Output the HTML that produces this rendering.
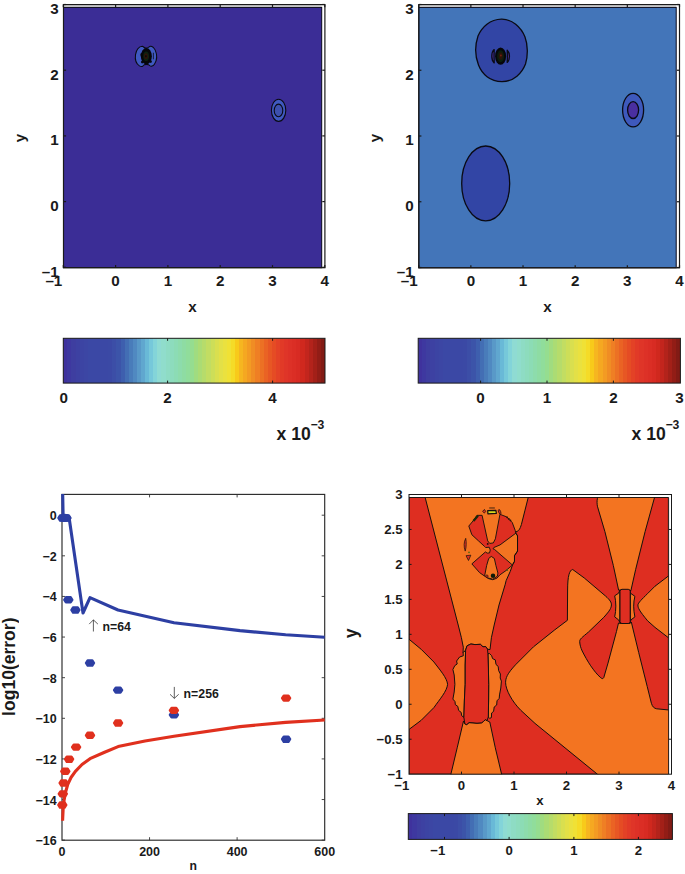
<!DOCTYPE html>
<html><head><meta charset="utf-8"><title>figure</title>
<style>html,body{margin:0;padding:0;background:#fff}svg{display:block}text{font-family:"Liberation Sans",sans-serif;font-weight:bold;fill:#1a1a1a;opacity:0.999}</style>
</head><body>
<svg width="685" height="874" viewBox="0 0 685 874">
<rect x="0" y="0" width="685" height="874" fill="#ffffff"/>
<rect x="63.50" y="4.60" width="258.20" height="3.00" fill="#dcdcdc"/>
<rect x="63.50" y="7.40" width="258.20" height="260.30" fill="#3B2D96" stroke="#08081a" stroke-width="1"/>
<ellipse cx="278.6" cy="110.3" rx="7.2" ry="11.1" fill="#3F59C0" stroke="#0a0a14" stroke-width="1.1"/>
<ellipse cx="278.5" cy="110.4" rx="4.3" ry="6.3" fill="#3D50AE" stroke="#0a0a14" stroke-width="1.1"/>
<g transform="translate(125,35) scale(0.0657)">
<path d="M265,172 C220,175 175,215 160,300 C150,370 175,440 220,470 C245,485 265,480 275,470 C290,440 360,440 380,468 C395,485 430,475 450,440 C485,385 490,300 460,230 C440,190 410,168 385,170 C370,172 355,200 320,200 C290,200 280,172 265,172 Z" fill="#3F59C0" stroke="#0a0a14" stroke-width="16"/>
<ellipse cx="325" cy="322" rx="84" ry="124" fill="#06060a"/>
<ellipse cx="250" cy="300" rx="16" ry="26" fill="#06060a"/>
<ellipse cx="262" cy="412" rx="18" ry="20" fill="#06060a"/>
<ellipse cx="392" cy="405" rx="16" ry="22" fill="#06060a"/>
<path d="M432,270 L432,370" fill="none" stroke="#0a0a14" stroke-width="12"/>
<ellipse cx="322" cy="322" rx="44" ry="72" fill="#0c2210"/>
<ellipse cx="320" cy="322" rx="28" ry="46" fill="#2e140a"/>
<ellipse cx="318" cy="322" rx="12" ry="18" fill="#0a0a0a"/>
</g>
<rect x="63.50" y="4.60" width="261.40" height="263.10" fill="none" stroke="#1a1a1a" stroke-width="1.2"/>
<line x1="63.30" y1="267.70" x2="63.30" y2="265.10" stroke="#1a1a1a" stroke-width="1.2"/>
<line x1="63.30" y1="4.60" x2="63.30" y2="7.20" stroke="#1a1a1a" stroke-width="1.2"/>
<line x1="115.60" y1="267.70" x2="115.60" y2="265.10" stroke="#1a1a1a" stroke-width="1.2"/>
<line x1="115.60" y1="4.60" x2="115.60" y2="7.20" stroke="#1a1a1a" stroke-width="1.2"/>
<line x1="167.90" y1="267.70" x2="167.90" y2="265.10" stroke="#1a1a1a" stroke-width="1.2"/>
<line x1="167.90" y1="4.60" x2="167.90" y2="7.20" stroke="#1a1a1a" stroke-width="1.2"/>
<line x1="220.20" y1="267.70" x2="220.20" y2="265.10" stroke="#1a1a1a" stroke-width="1.2"/>
<line x1="220.20" y1="4.60" x2="220.20" y2="7.20" stroke="#1a1a1a" stroke-width="1.2"/>
<line x1="272.50" y1="267.70" x2="272.50" y2="265.10" stroke="#1a1a1a" stroke-width="1.2"/>
<line x1="272.50" y1="4.60" x2="272.50" y2="7.20" stroke="#1a1a1a" stroke-width="1.2"/>
<line x1="324.80" y1="267.70" x2="324.80" y2="265.10" stroke="#1a1a1a" stroke-width="1.2"/>
<line x1="324.80" y1="4.60" x2="324.80" y2="7.20" stroke="#1a1a1a" stroke-width="1.2"/>
<line x1="63.50" y1="4.50" x2="66.10" y2="4.50" stroke="#1a1a1a" stroke-width="1.2"/>
<line x1="324.90" y1="4.50" x2="322.30" y2="4.50" stroke="#1a1a1a" stroke-width="1.2"/>
<line x1="63.50" y1="70.20" x2="66.10" y2="70.20" stroke="#1a1a1a" stroke-width="1.2"/>
<line x1="324.90" y1="70.20" x2="322.30" y2="70.20" stroke="#1a1a1a" stroke-width="1.2"/>
<line x1="63.50" y1="135.90" x2="66.10" y2="135.90" stroke="#1a1a1a" stroke-width="1.2"/>
<line x1="324.90" y1="135.90" x2="322.30" y2="135.90" stroke="#1a1a1a" stroke-width="1.2"/>
<line x1="63.50" y1="201.60" x2="66.10" y2="201.60" stroke="#1a1a1a" stroke-width="1.2"/>
<line x1="324.90" y1="201.60" x2="322.30" y2="201.60" stroke="#1a1a1a" stroke-width="1.2"/>
<line x1="63.50" y1="267.30" x2="66.10" y2="267.30" stroke="#1a1a1a" stroke-width="1.2"/>
<line x1="324.90" y1="267.30" x2="322.30" y2="267.30" stroke="#1a1a1a" stroke-width="1.2"/>
<text x="62.30" y="285.70" font-size="15.2" text-anchor="end" >–1</text>
<text x="115.60" y="285.70" font-size="15.2" text-anchor="middle" >0</text>
<text x="167.90" y="285.70" font-size="15.2" text-anchor="middle" >1</text>
<text x="220.20" y="285.70" font-size="15.2" text-anchor="middle" >2</text>
<text x="272.50" y="285.70" font-size="15.2" text-anchor="middle" >3</text>
<text x="324.80" y="285.70" font-size="15.2" text-anchor="middle" >4</text>
<text x="58.60" y="13.90" font-size="15.2" text-anchor="end" >3</text>
<text x="58.60" y="79.60" font-size="15.2" text-anchor="end" >2</text>
<text x="58.60" y="145.30" font-size="15.2" text-anchor="end" >1</text>
<text x="58.60" y="211.00" font-size="15.2" text-anchor="end" >0</text>
<text x="58.60" y="276.70" font-size="15.2" text-anchor="end" >–1</text>
<text x="192.50" y="312.30" font-size="15.2" text-anchor="middle" >x</text>
<text transform="translate(25.3,138) rotate(-90)" font-size="15.2" text-anchor="middle">y</text>
<linearGradient id="cb1" x1="0" y1="0" x2="1" y2="0"><stop offset="0.00000" stop-color="rgb(63,50,157)"/><stop offset="0.01562" stop-color="rgb(63,50,157)"/><stop offset="0.01562" stop-color="rgb(62,56,160)"/><stop offset="0.03125" stop-color="rgb(62,56,160)"/><stop offset="0.03125" stop-color="rgb(62,62,160)"/><stop offset="0.04688" stop-color="rgb(62,62,160)"/><stop offset="0.04688" stop-color="rgb(61,65,162)"/><stop offset="0.06250" stop-color="rgb(61,65,162)"/><stop offset="0.06250" stop-color="rgb(60,68,163)"/><stop offset="0.07812" stop-color="rgb(60,68,163)"/><stop offset="0.07812" stop-color="rgb(60,70,164)"/><stop offset="0.09375" stop-color="rgb(60,70,164)"/><stop offset="0.09375" stop-color="rgb(59,72,165)"/><stop offset="0.10938" stop-color="rgb(59,72,165)"/><stop offset="0.10938" stop-color="rgb(59,72,165)"/><stop offset="0.12500" stop-color="rgb(59,72,165)"/><stop offset="0.12500" stop-color="rgb(59,72,165)"/><stop offset="0.14062" stop-color="rgb(59,72,165)"/><stop offset="0.14062" stop-color="rgb(59,72,165)"/><stop offset="0.15625" stop-color="rgb(59,72,165)"/><stop offset="0.15625" stop-color="rgb(59,72,165)"/><stop offset="0.17188" stop-color="rgb(59,72,165)"/><stop offset="0.17188" stop-color="rgb(59,73,165)"/><stop offset="0.18750" stop-color="rgb(59,73,165)"/><stop offset="0.18750" stop-color="rgb(60,78,167)"/><stop offset="0.20312" stop-color="rgb(60,78,167)"/><stop offset="0.20312" stop-color="rgb(60,84,169)"/><stop offset="0.21875" stop-color="rgb(60,84,169)"/><stop offset="0.21875" stop-color="rgb(62,95,174)"/><stop offset="0.23438" stop-color="rgb(62,95,174)"/><stop offset="0.23438" stop-color="rgb(67,110,180)"/><stop offset="0.25000" stop-color="rgb(67,110,180)"/><stop offset="0.25000" stop-color="rgb(73,124,186)"/><stop offset="0.26562" stop-color="rgb(73,124,186)"/><stop offset="0.26562" stop-color="rgb(80,137,193)"/><stop offset="0.28125" stop-color="rgb(80,137,193)"/><stop offset="0.28125" stop-color="rgb(89,153,200)"/><stop offset="0.29688" stop-color="rgb(89,153,200)"/><stop offset="0.29688" stop-color="rgb(96,167,207)"/><stop offset="0.31250" stop-color="rgb(96,167,207)"/><stop offset="0.31250" stop-color="rgb(105,185,215)"/><stop offset="0.32812" stop-color="rgb(105,185,215)"/><stop offset="0.32812" stop-color="rgb(118,200,218)"/><stop offset="0.34375" stop-color="rgb(118,200,218)"/><stop offset="0.34375" stop-color="rgb(131,212,217)"/><stop offset="0.35938" stop-color="rgb(131,212,217)"/><stop offset="0.35938" stop-color="rgb(143,219,211)"/><stop offset="0.37500" stop-color="rgb(143,219,211)"/><stop offset="0.37500" stop-color="rgb(144,221,204)"/><stop offset="0.39062" stop-color="rgb(144,221,204)"/><stop offset="0.39062" stop-color="rgb(142,220,196)"/><stop offset="0.40625" stop-color="rgb(142,220,196)"/><stop offset="0.40625" stop-color="rgb(141,220,189)"/><stop offset="0.42188" stop-color="rgb(141,220,189)"/><stop offset="0.42188" stop-color="rgb(140,220,181)"/><stop offset="0.43750" stop-color="rgb(140,220,181)"/><stop offset="0.43750" stop-color="rgb(141,220,172)"/><stop offset="0.45312" stop-color="rgb(141,220,172)"/><stop offset="0.45312" stop-color="rgb(142,220,163)"/><stop offset="0.46875" stop-color="rgb(142,220,163)"/><stop offset="0.46875" stop-color="rgb(144,221,155)"/><stop offset="0.48438" stop-color="rgb(144,221,155)"/><stop offset="0.48438" stop-color="rgb(149,221,144)"/><stop offset="0.50000" stop-color="rgb(149,221,144)"/><stop offset="0.50000" stop-color="rgb(160,220,128)"/><stop offset="0.51562" stop-color="rgb(160,220,128)"/><stop offset="0.51562" stop-color="rgb(171,220,116)"/><stop offset="0.53125" stop-color="rgb(171,220,116)"/><stop offset="0.53125" stop-color="rgb(182,220,107)"/><stop offset="0.54688" stop-color="rgb(182,220,107)"/><stop offset="0.54688" stop-color="rgb(194,221,98)"/><stop offset="0.56250" stop-color="rgb(194,221,98)"/><stop offset="0.56250" stop-color="rgb(205,222,88)"/><stop offset="0.57812" stop-color="rgb(205,222,88)"/><stop offset="0.57812" stop-color="rgb(217,223,79)"/><stop offset="0.59375" stop-color="rgb(217,223,79)"/><stop offset="0.59375" stop-color="rgb(227,224,71)"/><stop offset="0.60938" stop-color="rgb(227,224,71)"/><stop offset="0.60938" stop-color="rgb(234,225,63)"/><stop offset="0.62500" stop-color="rgb(234,225,63)"/><stop offset="0.62500" stop-color="rgb(240,225,53)"/><stop offset="0.64062" stop-color="rgb(240,225,53)"/><stop offset="0.64062" stop-color="rgb(245,219,39)"/><stop offset="0.65625" stop-color="rgb(245,219,39)"/><stop offset="0.65625" stop-color="rgb(248,202,26)"/><stop offset="0.67188" stop-color="rgb(248,202,26)"/><stop offset="0.67188" stop-color="rgb(246,182,32)"/><stop offset="0.68750" stop-color="rgb(246,182,32)"/><stop offset="0.68750" stop-color="rgb(245,168,33)"/><stop offset="0.70312" stop-color="rgb(245,168,33)"/><stop offset="0.70312" stop-color="rgb(243,155,35)"/><stop offset="0.71875" stop-color="rgb(243,155,35)"/><stop offset="0.71875" stop-color="rgb(240,141,36)"/><stop offset="0.73438" stop-color="rgb(240,141,36)"/><stop offset="0.73438" stop-color="rgb(239,127,36)"/><stop offset="0.75000" stop-color="rgb(239,127,36)"/><stop offset="0.75000" stop-color="rgb(236,113,36)"/><stop offset="0.76562" stop-color="rgb(236,113,36)"/><stop offset="0.76562" stop-color="rgb(234,99,36)"/><stop offset="0.78125" stop-color="rgb(234,99,36)"/><stop offset="0.78125" stop-color="rgb(231,87,36)"/><stop offset="0.79688" stop-color="rgb(231,87,36)"/><stop offset="0.79688" stop-color="rgb(229,76,36)"/><stop offset="0.81250" stop-color="rgb(229,76,36)"/><stop offset="0.81250" stop-color="rgb(227,66,38)"/><stop offset="0.82812" stop-color="rgb(227,66,38)"/><stop offset="0.82812" stop-color="rgb(225,58,39)"/><stop offset="0.84375" stop-color="rgb(225,58,39)"/><stop offset="0.84375" stop-color="rgb(223,53,40)"/><stop offset="0.85938" stop-color="rgb(223,53,40)"/><stop offset="0.85938" stop-color="rgb(221,49,39)"/><stop offset="0.87500" stop-color="rgb(221,49,39)"/><stop offset="0.87500" stop-color="rgb(219,46,37)"/><stop offset="0.89062" stop-color="rgb(219,46,37)"/><stop offset="0.89062" stop-color="rgb(216,43,35)"/><stop offset="0.90625" stop-color="rgb(216,43,35)"/><stop offset="0.90625" stop-color="rgb(208,40,30)"/><stop offset="0.92188" stop-color="rgb(208,40,30)"/><stop offset="0.92188" stop-color="rgb(195,37,29)"/><stop offset="0.93750" stop-color="rgb(195,37,29)"/><stop offset="0.93750" stop-color="rgb(179,35,27)"/><stop offset="0.95312" stop-color="rgb(179,35,27)"/><stop offset="0.95312" stop-color="rgb(163,32,24)"/><stop offset="0.96875" stop-color="rgb(163,32,24)"/><stop offset="0.96875" stop-color="rgb(146,29,22)"/><stop offset="0.98438" stop-color="rgb(146,29,22)"/><stop offset="0.98438" stop-color="rgb(130,27,21)"/><stop offset="1.00000" stop-color="rgb(130,27,21)"/></linearGradient>
<rect x="63.30" y="338.30" width="261.70" height="44.80" fill="url(#cb1)"/>
<rect x="63.30" y="338.30" width="261.70" height="44.80" fill="none" stroke="#1a1a1a" stroke-width="1"/>
<text x="63.80" y="402.80" font-size="15.2" text-anchor="middle" >0</text>
<line x1="167.60" y1="338.30" x2="167.60" y2="340.80" stroke="#1a1a1a" stroke-width="1"/>
<line x1="167.60" y1="383.10" x2="167.60" y2="380.60" stroke="#1a1a1a" stroke-width="1"/>
<text x="167.60" y="402.80" font-size="15.2" text-anchor="middle" >2</text>
<line x1="272.60" y1="338.30" x2="272.60" y2="340.80" stroke="#1a1a1a" stroke-width="1"/>
<line x1="272.60" y1="383.10" x2="272.60" y2="380.60" stroke="#1a1a1a" stroke-width="1"/>
<text x="272.60" y="402.80" font-size="15.2" text-anchor="middle" >4</text>
<text x="276.6" y="440" font-size="17.6">x 10<tspan dy="-11.3" dx="-0.4" font-size="12.2">−3</tspan></text>
<rect x="418.80" y="4.60" width="257.40" height="3.00" fill="#dcdcdc"/>
<rect x="418.80" y="7.40" width="257.40" height="260.40" fill="#4375B9" stroke="#08081a" stroke-width="1"/>
<path d="M501.5,19.2 C512,19 521,27 525,37 C528,45 528,56 525.5,64 C522,73 514,81.6 502,81.6 C490,81.6 482,74 478.5,65 C475,56 475,45 478,36 C482,27 490,19.4 501.5,19.2 Z" fill="#3245A5" stroke="#0a0a14" stroke-width="1.3"/>
<ellipse cx="485.7" cy="183.4" rx="24" ry="37.4" fill="#3245A5" stroke="#0a0a14" stroke-width="1.3"/>
<path d="M494.2,49.6 C491.0,52.5 491.0,60 494.2,62.9 C494.0,59 494.0,53.5 494.2,49.6 Z" fill="#5030a4" stroke="#0a0a14" stroke-width="1.3" stroke-linejoin="round"/>
<path d="M507.2,50.2 C510.2,53 510.2,59.6 507.2,62.4 C507.4,58.6 507.4,54 507.2,50.2 Z" fill="#5030a4" stroke="#0a0a14" stroke-width="1.3" stroke-linejoin="round"/>
<ellipse cx="500.6" cy="56.2" rx="5.5" ry="8.6" fill="#06060a"/>
<ellipse cx="500.6" cy="56.2" rx="3.5" ry="6" fill="#0a1e0c"/>
<ellipse cx="500.7" cy="56.0" rx="2.1" ry="3.8" fill="#2a1408"/>
<ellipse cx="500.9" cy="55.4" rx="0.7" ry="1.0" fill="#8a2010"/>
<ellipse cx="633.1" cy="110.1" rx="10.5" ry="16.8" fill="#3E59BC" stroke="#0a0a14" stroke-width="1.3"/>
<ellipse cx="633.1" cy="110.1" rx="5.5" ry="8.4" fill="#4A2FA0" stroke="#0a0a14" stroke-width="1.3"/>
<rect x="418.80" y="4.60" width="260.70" height="263.20" fill="none" stroke="#1a1a1a" stroke-width="1.2"/>
<line x1="418.70" y1="267.80" x2="418.70" y2="265.20" stroke="#1a1a1a" stroke-width="1.2"/>
<line x1="418.70" y1="4.60" x2="418.70" y2="7.20" stroke="#1a1a1a" stroke-width="1.2"/>
<line x1="470.86" y1="267.80" x2="470.86" y2="265.20" stroke="#1a1a1a" stroke-width="1.2"/>
<line x1="470.86" y1="4.60" x2="470.86" y2="7.20" stroke="#1a1a1a" stroke-width="1.2"/>
<line x1="523.02" y1="267.80" x2="523.02" y2="265.20" stroke="#1a1a1a" stroke-width="1.2"/>
<line x1="523.02" y1="4.60" x2="523.02" y2="7.20" stroke="#1a1a1a" stroke-width="1.2"/>
<line x1="575.18" y1="267.80" x2="575.18" y2="265.20" stroke="#1a1a1a" stroke-width="1.2"/>
<line x1="575.18" y1="4.60" x2="575.18" y2="7.20" stroke="#1a1a1a" stroke-width="1.2"/>
<line x1="627.34" y1="267.80" x2="627.34" y2="265.20" stroke="#1a1a1a" stroke-width="1.2"/>
<line x1="627.34" y1="4.60" x2="627.34" y2="7.20" stroke="#1a1a1a" stroke-width="1.2"/>
<line x1="679.50" y1="267.80" x2="679.50" y2="265.20" stroke="#1a1a1a" stroke-width="1.2"/>
<line x1="679.50" y1="4.60" x2="679.50" y2="7.20" stroke="#1a1a1a" stroke-width="1.2"/>
<line x1="418.80" y1="4.50" x2="421.40" y2="4.50" stroke="#1a1a1a" stroke-width="1.2"/>
<line x1="679.50" y1="4.50" x2="676.90" y2="4.50" stroke="#1a1a1a" stroke-width="1.2"/>
<line x1="418.80" y1="70.25" x2="421.40" y2="70.25" stroke="#1a1a1a" stroke-width="1.2"/>
<line x1="679.50" y1="70.25" x2="676.90" y2="70.25" stroke="#1a1a1a" stroke-width="1.2"/>
<line x1="418.80" y1="136.00" x2="421.40" y2="136.00" stroke="#1a1a1a" stroke-width="1.2"/>
<line x1="679.50" y1="136.00" x2="676.90" y2="136.00" stroke="#1a1a1a" stroke-width="1.2"/>
<line x1="418.80" y1="201.75" x2="421.40" y2="201.75" stroke="#1a1a1a" stroke-width="1.2"/>
<line x1="679.50" y1="201.75" x2="676.90" y2="201.75" stroke="#1a1a1a" stroke-width="1.2"/>
<line x1="418.80" y1="267.50" x2="421.40" y2="267.50" stroke="#1a1a1a" stroke-width="1.2"/>
<line x1="679.50" y1="267.50" x2="676.90" y2="267.50" stroke="#1a1a1a" stroke-width="1.2"/>
<text x="417.70" y="285.70" font-size="15.2" text-anchor="end" >–1</text>
<text x="470.86" y="285.70" font-size="15.2" text-anchor="middle" >0</text>
<text x="523.02" y="285.70" font-size="15.2" text-anchor="middle" >1</text>
<text x="575.18" y="285.70" font-size="15.2" text-anchor="middle" >2</text>
<text x="627.34" y="285.70" font-size="15.2" text-anchor="middle" >3</text>
<text x="679.50" y="285.70" font-size="15.2" text-anchor="middle" >4</text>
<text x="413.60" y="13.90" font-size="15.2" text-anchor="end" >3</text>
<text x="413.60" y="79.65" font-size="15.2" text-anchor="end" >2</text>
<text x="413.60" y="145.40" font-size="15.2" text-anchor="end" >1</text>
<text x="413.60" y="211.15" font-size="15.2" text-anchor="end" >0</text>
<text x="413.60" y="276.90" font-size="15.2" text-anchor="end" >–1</text>
<text x="547.50" y="312.30" font-size="15.2" text-anchor="middle" >x</text>
<text transform="translate(380.3,138) rotate(-90)" font-size="15.2" text-anchor="middle">y</text>
<linearGradient id="cb2" x1="0" y1="0" x2="1" y2="0"><stop offset="0.00000" stop-color="rgb(63,50,157)"/><stop offset="0.01562" stop-color="rgb(63,50,157)"/><stop offset="0.01562" stop-color="rgb(62,56,160)"/><stop offset="0.03125" stop-color="rgb(62,56,160)"/><stop offset="0.03125" stop-color="rgb(62,62,160)"/><stop offset="0.04688" stop-color="rgb(62,62,160)"/><stop offset="0.04688" stop-color="rgb(61,65,162)"/><stop offset="0.06250" stop-color="rgb(61,65,162)"/><stop offset="0.06250" stop-color="rgb(60,68,163)"/><stop offset="0.07812" stop-color="rgb(60,68,163)"/><stop offset="0.07812" stop-color="rgb(60,70,164)"/><stop offset="0.09375" stop-color="rgb(60,70,164)"/><stop offset="0.09375" stop-color="rgb(59,72,165)"/><stop offset="0.10938" stop-color="rgb(59,72,165)"/><stop offset="0.10938" stop-color="rgb(59,72,165)"/><stop offset="0.12500" stop-color="rgb(59,72,165)"/><stop offset="0.12500" stop-color="rgb(59,72,165)"/><stop offset="0.14062" stop-color="rgb(59,72,165)"/><stop offset="0.14062" stop-color="rgb(59,72,165)"/><stop offset="0.15625" stop-color="rgb(59,72,165)"/><stop offset="0.15625" stop-color="rgb(59,72,165)"/><stop offset="0.17188" stop-color="rgb(59,72,165)"/><stop offset="0.17188" stop-color="rgb(59,73,165)"/><stop offset="0.18750" stop-color="rgb(59,73,165)"/><stop offset="0.18750" stop-color="rgb(60,78,167)"/><stop offset="0.20312" stop-color="rgb(60,78,167)"/><stop offset="0.20312" stop-color="rgb(60,84,169)"/><stop offset="0.21875" stop-color="rgb(60,84,169)"/><stop offset="0.21875" stop-color="rgb(62,95,174)"/><stop offset="0.23438" stop-color="rgb(62,95,174)"/><stop offset="0.23438" stop-color="rgb(67,110,180)"/><stop offset="0.25000" stop-color="rgb(67,110,180)"/><stop offset="0.25000" stop-color="rgb(73,124,186)"/><stop offset="0.26562" stop-color="rgb(73,124,186)"/><stop offset="0.26562" stop-color="rgb(80,137,193)"/><stop offset="0.28125" stop-color="rgb(80,137,193)"/><stop offset="0.28125" stop-color="rgb(89,153,200)"/><stop offset="0.29688" stop-color="rgb(89,153,200)"/><stop offset="0.29688" stop-color="rgb(96,167,207)"/><stop offset="0.31250" stop-color="rgb(96,167,207)"/><stop offset="0.31250" stop-color="rgb(105,185,215)"/><stop offset="0.32812" stop-color="rgb(105,185,215)"/><stop offset="0.32812" stop-color="rgb(118,200,218)"/><stop offset="0.34375" stop-color="rgb(118,200,218)"/><stop offset="0.34375" stop-color="rgb(131,212,217)"/><stop offset="0.35938" stop-color="rgb(131,212,217)"/><stop offset="0.35938" stop-color="rgb(143,219,211)"/><stop offset="0.37500" stop-color="rgb(143,219,211)"/><stop offset="0.37500" stop-color="rgb(144,221,204)"/><stop offset="0.39062" stop-color="rgb(144,221,204)"/><stop offset="0.39062" stop-color="rgb(142,220,196)"/><stop offset="0.40625" stop-color="rgb(142,220,196)"/><stop offset="0.40625" stop-color="rgb(141,220,189)"/><stop offset="0.42188" stop-color="rgb(141,220,189)"/><stop offset="0.42188" stop-color="rgb(140,220,181)"/><stop offset="0.43750" stop-color="rgb(140,220,181)"/><stop offset="0.43750" stop-color="rgb(141,220,172)"/><stop offset="0.45312" stop-color="rgb(141,220,172)"/><stop offset="0.45312" stop-color="rgb(142,220,163)"/><stop offset="0.46875" stop-color="rgb(142,220,163)"/><stop offset="0.46875" stop-color="rgb(144,221,155)"/><stop offset="0.48438" stop-color="rgb(144,221,155)"/><stop offset="0.48438" stop-color="rgb(149,221,144)"/><stop offset="0.50000" stop-color="rgb(149,221,144)"/><stop offset="0.50000" stop-color="rgb(160,220,128)"/><stop offset="0.51562" stop-color="rgb(160,220,128)"/><stop offset="0.51562" stop-color="rgb(171,220,116)"/><stop offset="0.53125" stop-color="rgb(171,220,116)"/><stop offset="0.53125" stop-color="rgb(182,220,107)"/><stop offset="0.54688" stop-color="rgb(182,220,107)"/><stop offset="0.54688" stop-color="rgb(194,221,98)"/><stop offset="0.56250" stop-color="rgb(194,221,98)"/><stop offset="0.56250" stop-color="rgb(205,222,88)"/><stop offset="0.57812" stop-color="rgb(205,222,88)"/><stop offset="0.57812" stop-color="rgb(217,223,79)"/><stop offset="0.59375" stop-color="rgb(217,223,79)"/><stop offset="0.59375" stop-color="rgb(227,224,71)"/><stop offset="0.60938" stop-color="rgb(227,224,71)"/><stop offset="0.60938" stop-color="rgb(234,225,63)"/><stop offset="0.62500" stop-color="rgb(234,225,63)"/><stop offset="0.62500" stop-color="rgb(240,225,53)"/><stop offset="0.64062" stop-color="rgb(240,225,53)"/><stop offset="0.64062" stop-color="rgb(245,219,39)"/><stop offset="0.65625" stop-color="rgb(245,219,39)"/><stop offset="0.65625" stop-color="rgb(248,202,26)"/><stop offset="0.67188" stop-color="rgb(248,202,26)"/><stop offset="0.67188" stop-color="rgb(246,182,32)"/><stop offset="0.68750" stop-color="rgb(246,182,32)"/><stop offset="0.68750" stop-color="rgb(245,168,33)"/><stop offset="0.70312" stop-color="rgb(245,168,33)"/><stop offset="0.70312" stop-color="rgb(243,155,35)"/><stop offset="0.71875" stop-color="rgb(243,155,35)"/><stop offset="0.71875" stop-color="rgb(240,141,36)"/><stop offset="0.73438" stop-color="rgb(240,141,36)"/><stop offset="0.73438" stop-color="rgb(239,127,36)"/><stop offset="0.75000" stop-color="rgb(239,127,36)"/><stop offset="0.75000" stop-color="rgb(236,113,36)"/><stop offset="0.76562" stop-color="rgb(236,113,36)"/><stop offset="0.76562" stop-color="rgb(234,99,36)"/><stop offset="0.78125" stop-color="rgb(234,99,36)"/><stop offset="0.78125" stop-color="rgb(231,87,36)"/><stop offset="0.79688" stop-color="rgb(231,87,36)"/><stop offset="0.79688" stop-color="rgb(229,76,36)"/><stop offset="0.81250" stop-color="rgb(229,76,36)"/><stop offset="0.81250" stop-color="rgb(227,66,38)"/><stop offset="0.82812" stop-color="rgb(227,66,38)"/><stop offset="0.82812" stop-color="rgb(225,58,39)"/><stop offset="0.84375" stop-color="rgb(225,58,39)"/><stop offset="0.84375" stop-color="rgb(223,53,40)"/><stop offset="0.85938" stop-color="rgb(223,53,40)"/><stop offset="0.85938" stop-color="rgb(221,49,39)"/><stop offset="0.87500" stop-color="rgb(221,49,39)"/><stop offset="0.87500" stop-color="rgb(219,46,37)"/><stop offset="0.89062" stop-color="rgb(219,46,37)"/><stop offset="0.89062" stop-color="rgb(216,43,35)"/><stop offset="0.90625" stop-color="rgb(216,43,35)"/><stop offset="0.90625" stop-color="rgb(208,40,30)"/><stop offset="0.92188" stop-color="rgb(208,40,30)"/><stop offset="0.92188" stop-color="rgb(195,37,29)"/><stop offset="0.93750" stop-color="rgb(195,37,29)"/><stop offset="0.93750" stop-color="rgb(179,35,27)"/><stop offset="0.95312" stop-color="rgb(179,35,27)"/><stop offset="0.95312" stop-color="rgb(163,32,24)"/><stop offset="0.96875" stop-color="rgb(163,32,24)"/><stop offset="0.96875" stop-color="rgb(146,29,22)"/><stop offset="0.98438" stop-color="rgb(146,29,22)"/><stop offset="0.98438" stop-color="rgb(130,27,21)"/><stop offset="1.00000" stop-color="rgb(130,27,21)"/></linearGradient>
<rect x="418.20" y="338.30" width="262.20" height="44.80" fill="url(#cb2)"/>
<rect x="418.20" y="338.30" width="262.20" height="44.80" fill="none" stroke="#1a1a1a" stroke-width="1"/>
<line x1="480.60" y1="338.30" x2="480.60" y2="340.80" stroke="#1a1a1a" stroke-width="1"/>
<line x1="480.60" y1="383.10" x2="480.60" y2="380.60" stroke="#1a1a1a" stroke-width="1"/>
<text x="480.60" y="402.80" font-size="15.2" text-anchor="middle" >0</text>
<line x1="547.00" y1="338.30" x2="547.00" y2="340.80" stroke="#1a1a1a" stroke-width="1"/>
<line x1="547.00" y1="383.10" x2="547.00" y2="380.60" stroke="#1a1a1a" stroke-width="1"/>
<text x="547.00" y="402.80" font-size="15.2" text-anchor="middle" >1</text>
<line x1="613.40" y1="338.30" x2="613.40" y2="340.80" stroke="#1a1a1a" stroke-width="1"/>
<line x1="613.40" y1="383.10" x2="613.40" y2="380.60" stroke="#1a1a1a" stroke-width="1"/>
<text x="613.40" y="402.80" font-size="15.2" text-anchor="middle" >2</text>
<text x="679.60" y="402.80" font-size="15.2" text-anchor="middle" >3</text>
<text x="631.6" y="440" font-size="17.6">x 10<tspan dy="-11.3" dx="-0.4" font-size="12.2">−3</tspan></text>
<rect x="62.00" y="494.40" width="262.70" height="345.80" fill="none" stroke="#2a2a2a" stroke-width="1.15"/>
<line x1="149.56" y1="840.20" x2="149.56" y2="837.20" stroke="#333" stroke-width="0.9"/>
<line x1="149.56" y1="494.40" x2="149.56" y2="497.40" stroke="#333" stroke-width="0.9"/>
<line x1="237.12" y1="840.20" x2="237.12" y2="837.20" stroke="#333" stroke-width="0.9"/>
<line x1="237.12" y1="494.40" x2="237.12" y2="497.40" stroke="#333" stroke-width="0.9"/>
<line x1="62.00" y1="515.20" x2="65.00" y2="515.20" stroke="#333" stroke-width="0.9"/>
<line x1="324.70" y1="515.20" x2="321.70" y2="515.20" stroke="#333" stroke-width="0.9"/>
<line x1="62.00" y1="555.82" x2="65.00" y2="555.82" stroke="#333" stroke-width="0.9"/>
<line x1="324.70" y1="555.82" x2="321.70" y2="555.82" stroke="#333" stroke-width="0.9"/>
<line x1="62.00" y1="596.44" x2="65.00" y2="596.44" stroke="#333" stroke-width="0.9"/>
<line x1="324.70" y1="596.44" x2="321.70" y2="596.44" stroke="#333" stroke-width="0.9"/>
<line x1="62.00" y1="637.06" x2="65.00" y2="637.06" stroke="#333" stroke-width="0.9"/>
<line x1="324.70" y1="637.06" x2="321.70" y2="637.06" stroke="#333" stroke-width="0.9"/>
<line x1="62.00" y1="677.68" x2="65.00" y2="677.68" stroke="#333" stroke-width="0.9"/>
<line x1="324.70" y1="677.68" x2="321.70" y2="677.68" stroke="#333" stroke-width="0.9"/>
<line x1="62.00" y1="718.30" x2="65.00" y2="718.30" stroke="#333" stroke-width="0.9"/>
<line x1="324.70" y1="718.30" x2="321.70" y2="718.30" stroke="#333" stroke-width="0.9"/>
<line x1="62.00" y1="758.92" x2="65.00" y2="758.92" stroke="#333" stroke-width="0.9"/>
<line x1="324.70" y1="758.92" x2="321.70" y2="758.92" stroke="#333" stroke-width="0.9"/>
<line x1="62.00" y1="799.54" x2="65.00" y2="799.54" stroke="#333" stroke-width="0.9"/>
<line x1="324.70" y1="799.54" x2="321.70" y2="799.54" stroke="#333" stroke-width="0.9"/>
<line x1="62.00" y1="840.16" x2="65.00" y2="840.16" stroke="#333" stroke-width="0.9"/>
<line x1="324.70" y1="840.16" x2="321.70" y2="840.16" stroke="#333" stroke-width="0.9"/>
<text x="62.00" y="855.90" font-size="12.5" text-anchor="middle" >0</text>
<text x="149.56" y="855.90" font-size="12.5" text-anchor="middle" >200</text>
<text x="237.12" y="855.90" font-size="12.5" text-anchor="middle" >400</text>
<text x="324.68" y="855.90" font-size="12.5" text-anchor="middle" >600</text>
<text x="56.70" y="520.20" font-size="12.5" text-anchor="end" >0</text>
<text x="56.70" y="560.82" font-size="12.5" text-anchor="end" >−2</text>
<text x="56.70" y="601.44" font-size="12.5" text-anchor="end" >−4</text>
<text x="56.70" y="642.06" font-size="12.5" text-anchor="end" >−6</text>
<text x="56.70" y="682.68" font-size="12.5" text-anchor="end" >−8</text>
<text x="56.70" y="723.30" font-size="12.5" text-anchor="end" >−10</text>
<text x="56.70" y="763.92" font-size="12.5" text-anchor="end" >−12</text>
<text x="56.70" y="804.54" font-size="12.5" text-anchor="end" >−14</text>
<text x="56.70" y="845.16" font-size="12.5" text-anchor="end" >−16</text>
<text x="193.20" y="870.30" font-size="12.2" text-anchor="middle" >n</text>
<text transform="translate(15.0,666.7) rotate(-90)" font-size="17.55" text-anchor="middle">log10(error)</text>
<path d="M58.30,518.00 l1.7,-2.6 h4.8 l1.7,2.6 l-1.7,2.6 h-4.8 Z" fill="#2D3FA3" stroke="#2D3FA3" stroke-width="2.2" stroke-linejoin="round"/>
<path d="M59.50,518.00 l1.7,-2.6 h4.8 l1.7,2.6 l-1.7,2.6 h-4.8 Z" fill="#2D3FA3" stroke="#2D3FA3" stroke-width="2.2" stroke-linejoin="round"/>
<path d="M61.30,518.00 l1.7,-2.6 h4.8 l1.7,2.6 l-1.7,2.6 h-4.8 Z" fill="#2D3FA3" stroke="#2D3FA3" stroke-width="2.2" stroke-linejoin="round"/>
<path d="M62.40,518.00 l1.7,-2.6 h4.8 l1.7,2.6 l-1.7,2.6 h-4.8 Z" fill="#2D3FA3" stroke="#2D3FA3" stroke-width="2.2" stroke-linejoin="round"/>
<path d="M64.20,599.80 l1.7,-2.6 h4.8 l1.7,2.6 l-1.7,2.6 h-4.8 Z" fill="#2D3FA3" stroke="#2D3FA3" stroke-width="2.2" stroke-linejoin="round"/>
<path d="M71.30,610.00 l1.7,-2.6 h4.8 l1.7,2.6 l-1.7,2.6 h-4.8 Z" fill="#2D3FA3" stroke="#2D3FA3" stroke-width="2.2" stroke-linejoin="round"/>
<path d="M85.90,663.00 l1.7,-2.6 h4.8 l1.7,2.6 l-1.7,2.6 h-4.8 Z" fill="#2D3FA3" stroke="#2D3FA3" stroke-width="2.2" stroke-linejoin="round"/>
<path d="M114.00,690.10 l1.7,-2.6 h4.8 l1.7,2.6 l-1.7,2.6 h-4.8 Z" fill="#2D3FA3" stroke="#2D3FA3" stroke-width="2.2" stroke-linejoin="round"/>
<path d="M169.80,714.90 l1.7,-2.6 h4.8 l1.7,2.6 l-1.7,2.6 h-4.8 Z" fill="#2D3FA3" stroke="#2D3FA3" stroke-width="2.2" stroke-linejoin="round"/>
<path d="M58.20,805.00 l1.7,-2.6 h4.8 l1.7,2.6 l-1.7,2.6 h-4.8 Z" fill="#E0301E" stroke="#E0301E" stroke-width="2.2" stroke-linejoin="round"/>
<path d="M58.70,793.90 l1.7,-2.6 h4.8 l1.7,2.6 l-1.7,2.6 h-4.8 Z" fill="#E0301E" stroke="#E0301E" stroke-width="2.2" stroke-linejoin="round"/>
<path d="M59.50,783.00 l1.7,-2.6 h4.8 l1.7,2.6 l-1.7,2.6 h-4.8 Z" fill="#E0301E" stroke="#E0301E" stroke-width="2.2" stroke-linejoin="round"/>
<path d="M61.20,771.30 l1.7,-2.6 h4.8 l1.7,2.6 l-1.7,2.6 h-4.8 Z" fill="#E0301E" stroke="#E0301E" stroke-width="2.2" stroke-linejoin="round"/>
<path d="M65.00,759.20 l1.7,-2.6 h4.8 l1.7,2.6 l-1.7,2.6 h-4.8 Z" fill="#E0301E" stroke="#E0301E" stroke-width="2.2" stroke-linejoin="round"/>
<path d="M72.00,747.10 l1.7,-2.6 h4.8 l1.7,2.6 l-1.7,2.6 h-4.8 Z" fill="#E0301E" stroke="#E0301E" stroke-width="2.2" stroke-linejoin="round"/>
<path d="M85.90,735.30 l1.7,-2.6 h4.8 l1.7,2.6 l-1.7,2.6 h-4.8 Z" fill="#E0301E" stroke="#E0301E" stroke-width="2.2" stroke-linejoin="round"/>
<path d="M114.00,723.00 l1.7,-2.6 h4.8 l1.7,2.6 l-1.7,2.6 h-4.8 Z" fill="#E0301E" stroke="#E0301E" stroke-width="2.2" stroke-linejoin="round"/>
<path d="M169.80,710.40 l1.7,-2.6 h4.8 l1.7,2.6 l-1.7,2.6 h-4.8 Z" fill="#E0301E" stroke="#E0301E" stroke-width="2.2" stroke-linejoin="round"/>
<path d="M282.00,698.10 l1.7,-2.6 h4.8 l1.7,2.6 l-1.7,2.6 h-4.8 Z" fill="#E0301E" stroke="#E0301E" stroke-width="2.2" stroke-linejoin="round"/>
<path d="M282.00,739.20 l1.7,-2.6 h4.8 l1.7,2.6 l-1.7,2.6 h-4.8 Z" fill="#2D3FA3" stroke="#2D3FA3" stroke-width="2.2" stroke-linejoin="round"/>
<path d="M62.7,494 L63.1,515 L66,515.5 L69,517 L83,613 L90,597.6 L118,610 L174,622.7 L240,630.6 L285.6,634.8 L324.7,637.2" fill="none" stroke="#2D3FA3" stroke-width="3.1" stroke-linejoin="round"/>
<path d="M62.6,820.8 L63.2,808 L64,800.6 L65.6,792 L67.8,784.3 L71,777.5 L75.4,771.3 L82,764.5 L90,758.7 L104,752.5 L118.1,746.6 L145,741 L174,736.3 L240,726.6 L285.6,722.4 L324.7,720" fill="none" stroke="#E0301E" stroke-width="3.1" stroke-linejoin="round"/>
<path d="M93.4,631.5 V619.9 M89.2,624.1 L93.4,619.9 L97.9,624.1" fill="none" stroke="#1a1a1a" stroke-width="0.7"/>
<text x="102.5" y="631" font-size="12.3" text-anchor="start">n=64</text>
<path d="M174.3,686.9 V698.3 M170,694.3 L174.3,698.4 L178.7,694.3" fill="none" stroke="#1a1a1a" stroke-width="0.7"/>
<text x="183.6" y="698.2" font-size="12.3" text-anchor="start">n=256</text>
<clipPath id="c4"><rect x="409.00" y="497.30" width="259.40" height="276.90"/></clipPath>
<g clip-path="url(#c4)" stroke="#15100c" stroke-width="1" stroke-linejoin="round">
<rect x="409.00" y="497.30" width="259.40" height="276.90" fill="#DE2E21"/>
<path d="M400,633 L408.5,638.8 L421.2,649.3 L433.9,662 C440,670 447,678 447.6,684.3 C447,691 440,699 433.9,707.6 L421.2,720.3 L408.5,729.8 L400,735 Z" fill="#F37421"/>
<path d="M423.2,490 L458.2,625 L461.4,637.7 L463.3,647.2 L463,652.8 L465.6,650.2 L467,645.8 L470.9,644 L475,644.6 L480.4,644.3 L483,646.8 L485.7,646.6 L487.5,649.2 L490,649.6 L491.4,637.7 L494.2,625 L499,605 L505.1,584.8 L506.1,580.7 L510.2,571.5 L512.7,564.6 L514.5,561.3 L514.5,555.7 L517.5,551.1 L517.5,535.8 L515.8,533.2 L515.6,531.9 C517.8,531.6 519.4,530 520.4,527.4 L521.4,524.5 L525,510.2 L530.1,490 Z" fill="#F37421"/>
<path d="M463.5,721 L464.8,723.8 L466.7,724.6 L469,722.6 L473,722.8 L477,723.2 L481.5,722.8 L483.6,721.4 L485.3,719.6 L487,720.6 L489.8,722 L495.3,747.8 L503.5,782 L449,782 L457.2,747.8 Z" fill="#F37421"/>
<path d="M465.6,650.4 L463.1,652.5 L463.3,655.8 L459.6,657 L456.6,661 L457.2,664 L454.8,665.6 L452.9,669.5 L454.2,675 L454.9,684.3 L454.2,692 L452.9,699.1 L455,701.6 L455.3,704.6 L457.8,706.4 L458.6,710.4 L461.2,712.4 L461.6,715.6 L463.9,717.4 L464.4,700 L465.2,684.3 L465.2,665 Z" fill="#F37421"/>
<path d="M487.9,653.8 L489.3,653.4 L491.6,655.6 L492.6,658.6 L495.3,659.9 L496,664.5 L498.2,666.4 L498.6,670.5 L500.4,674 L500.2,678 L501.4,681.1 L500.8,688 L499.5,694.9 L499.2,698.4 L497,700.8 L496.7,705 L494.2,707 L493.6,711.4 L491.6,713 L491.4,717.6 L489.6,718.4 L488.3,717 L488.6,700 L488.7,684.3 L488.4,668 Z" fill="#F37421"/>
<path d="M505.6,682.8 C505.6,678 507,674 515.5,664.8 L533.5,646.8 L554.7,629.9 L567.4,620.3 L567.6,590 C567.6,576 569.5,570 572.7,569.5 L584.3,578 L605.5,596 C610,600 611.6,602.5 611.4,605 C611.2,608 610,610.5 603.8,617.3 L588.5,632 C582,637.5 579.7,639 579.7,641.5 C579.9,645 580.6,647.5 582.2,651 C585,656.5 587.5,661 590.7,665.8 C594,670.5 597,674.5 600.2,677.2 C601.8,678.8 603,679.2 603.8,677.5 L608,663.1 L616.5,631.4 L618.5,623 L619.9,623.4 L630.2,623.4 L631.3,622 L638.7,652.5 L647.2,686.4 L651.4,703.3 C652.6,707 654,708.2 656.7,708.8 L675,710.6 L675,785 L610.5,785 L597.4,774.2 L535,723.4 L520.8,710.3 C512,701.5 505.8,690 505.6,682.8 Z" fill="#F37421"/>
<path d="M675,571 L655,586.2 L647.6,593.6 C642,599 638,603 637.9,605 C638,608 639,610.4 647.6,620.8 L655,627.4 L675,642.8 Z" fill="#F37421"/>
<path d="M600.5,490 C597,497 596.6,501 597.4,506.2 L604.9,531.6 L613.3,565.4 L618.6,590.1 L630.9,590.6 L635.6,569.7 L645.1,531.6 L656.6,490 Z" fill="#F37421"/>
<path d="M619.9,590.2 L618.6,593.2 L614.7,595.8 C616.2,602 616.2,610 614.7,616.9 L618.6,619.9 L619.9,622.6 Z" fill="#F37421"/>
<path d="M630.3,590.2 L630.5,593.2 L634.9,596.3 C633.3,602 633.3,610 634.9,616.9 L630.9,619.9 L630.3,622.6 Z" fill="#F37421"/>
<rect x="620" y="589.3" width="10.2" height="34.2" rx="2" fill="#DE2E21"/>
<path d="M465.6,650.2 L467,645.8 L470.9,644 L475,644.6 L480.4,644.3 L483,646.8 L485.7,646.6 L487.5,649.2 L487.9,653.8 L488.4,668 L488.7,684.3 L488.6,700 L488.3,717 L487,720.6 L485.3,719.6 L483.6,721.4 L481.5,722.8 L477,723.2 L473,722.8 L469,722.6 L466.7,724.6 L464.8,723.8 L463.9,717.4 L464.4,700 L465.2,684.3 L465.2,665 Z" fill="#DE2E21"/>
<g transform="translate(455,500) scale(0.10219)" stroke-width="9">
<path d="M265,150 L215,150 L185,195 L135,255 L165,340 L230,400 L290,455 L300,465 L335,462 L345,490 L338,518 L315,520 L298,508 L165,625 L240,710 L290,745 L330,770 L370,780 L410,765 L440,732 L500,690 L562,636 L440,530 L385,482 L372,478 L380,465 L440,440 L595,325 L590,300 L560,220 L505,165 L440,140 L395,380 L375,420 L340,425 L320,400 Z" fill="#DE2E21"/>
<path d="M290,742 L310,640 L330,572 L355,552 L385,572 L400,640 L420,715 L415,745 L370,775 L320,762 Z" fill="#F37421"/>
<path d="M595,325 L612,350 L612,500 L582,545 L582,600 L565,632" fill="none"/>
<path d="M320,105 L400,102 L405,130 L322,135 Z" fill="#d8d820" stroke-width="12"/>
<path d="M270,112 L288,92 L300,112 L287,128 Z" fill="#DE2E21" stroke-width="7"/>
<ellipse cx="437" cy="116" rx="10" ry="24" transform="rotate(-20 437 116)" fill="#DE2E21" stroke-width="7"/>
<path d="M335,78 L390,78" fill="none" stroke-width="8"/>
<path d="M180,205 L225,155" fill="none" stroke-width="22" stroke="#1c2a08"/>
<path d="M505,165 L550,205" fill="none" stroke-width="16" stroke="#2a1208" stroke-dasharray="14 8"/>
<circle cx="372" cy="742" r="22" fill="#0c1a08" stroke="none"/>
<circle cx="312" cy="745" r="12" fill="#DE2E21" stroke-width="6"/>
<circle cx="320" cy="430" r="9" fill="#180808" stroke="none"/>
<circle cx="510" cy="685" r="9" fill="#4a5a10" stroke="none"/>
<path d="M105,375 C85,410 85,460 100,500 C112,460 112,410 105,375 Z" fill="#DE2E21" stroke-width="7"/>
<path d="M108,545 L155,540 L132,592 Z" fill="#DE2E21" stroke-width="7"/>
<circle cx="137" cy="512" r="9" fill="#5a6a10" stroke="none"/>
</g>
</g>
<path d="M409.00,497.50 H668.60 V774.20" fill="none" stroke="#15100c" stroke-width="0.9"/>
<rect x="409.00" y="494.50" width="262.50" height="279.70" fill="none" stroke="#1a1a1a" stroke-width="1"/>
<line x1="461.50" y1="774.20" x2="461.50" y2="771.60" stroke="#1a1a1a" stroke-width="1"/>
<line x1="461.50" y1="494.50" x2="461.50" y2="497.10" stroke="#1a1a1a" stroke-width="1"/>
<line x1="514.00" y1="774.20" x2="514.00" y2="771.60" stroke="#1a1a1a" stroke-width="1"/>
<line x1="514.00" y1="494.50" x2="514.00" y2="497.10" stroke="#1a1a1a" stroke-width="1"/>
<line x1="566.50" y1="774.20" x2="566.50" y2="771.60" stroke="#1a1a1a" stroke-width="1"/>
<line x1="566.50" y1="494.50" x2="566.50" y2="497.10" stroke="#1a1a1a" stroke-width="1"/>
<line x1="619.00" y1="774.20" x2="619.00" y2="771.60" stroke="#1a1a1a" stroke-width="1"/>
<line x1="619.00" y1="494.50" x2="619.00" y2="497.10" stroke="#1a1a1a" stroke-width="1"/>
<line x1="409.00" y1="529.46" x2="411.60" y2="529.46" stroke="#1a1a1a" stroke-width="1"/>
<line x1="671.50" y1="529.46" x2="668.90" y2="529.46" stroke="#1a1a1a" stroke-width="1"/>
<line x1="409.00" y1="564.42" x2="411.60" y2="564.42" stroke="#1a1a1a" stroke-width="1"/>
<line x1="671.50" y1="564.42" x2="668.90" y2="564.42" stroke="#1a1a1a" stroke-width="1"/>
<line x1="409.00" y1="599.38" x2="411.60" y2="599.38" stroke="#1a1a1a" stroke-width="1"/>
<line x1="671.50" y1="599.38" x2="668.90" y2="599.38" stroke="#1a1a1a" stroke-width="1"/>
<line x1="409.00" y1="634.34" x2="411.60" y2="634.34" stroke="#1a1a1a" stroke-width="1"/>
<line x1="671.50" y1="634.34" x2="668.90" y2="634.34" stroke="#1a1a1a" stroke-width="1"/>
<line x1="409.00" y1="669.30" x2="411.60" y2="669.30" stroke="#1a1a1a" stroke-width="1"/>
<line x1="671.50" y1="669.30" x2="668.90" y2="669.30" stroke="#1a1a1a" stroke-width="1"/>
<line x1="409.00" y1="704.26" x2="411.60" y2="704.26" stroke="#1a1a1a" stroke-width="1"/>
<line x1="671.50" y1="704.26" x2="668.90" y2="704.26" stroke="#1a1a1a" stroke-width="1"/>
<line x1="409.00" y1="739.22" x2="411.60" y2="739.22" stroke="#1a1a1a" stroke-width="1"/>
<line x1="671.50" y1="739.22" x2="668.90" y2="739.22" stroke="#1a1a1a" stroke-width="1"/>
<text x="409.30" y="790.40" font-size="13.2" text-anchor="end" >−1</text>
<text x="461.50" y="790.40" font-size="13.2" text-anchor="middle" >0</text>
<text x="514.00" y="790.40" font-size="13.2" text-anchor="middle" >1</text>
<text x="566.50" y="790.40" font-size="13.2" text-anchor="middle" >2</text>
<text x="619.00" y="790.40" font-size="13.2" text-anchor="middle" >3</text>
<text x="671.50" y="790.40" font-size="13.2" text-anchor="middle" >4</text>
<text x="402.60" y="499.20" font-size="13.2" text-anchor="end" >3</text>
<text x="402.60" y="534.16" font-size="13.2" text-anchor="end" >2.5</text>
<text x="402.60" y="569.12" font-size="13.2" text-anchor="end" >2</text>
<text x="402.60" y="604.08" font-size="13.2" text-anchor="end" >1.5</text>
<text x="402.60" y="639.04" font-size="13.2" text-anchor="end" >1</text>
<text x="402.60" y="674.00" font-size="13.2" text-anchor="end" >0.5</text>
<text x="402.60" y="708.96" font-size="13.2" text-anchor="end" >0</text>
<text x="402.60" y="743.92" font-size="13.2" text-anchor="end" >−0.5</text>
<text x="402.60" y="778.88" font-size="13.2" text-anchor="end" >−1</text>
<text x="540.00" y="805.20" font-size="13.2" text-anchor="middle" >x</text>
<text transform="translate(357.2,633.3) rotate(-90)" font-size="17.6" text-anchor="middle">y</text>
<linearGradient id="cb3" x1="0" y1="0" x2="1" y2="0"><stop offset="0.00000" stop-color="rgb(63,50,157)"/><stop offset="0.01562" stop-color="rgb(63,50,157)"/><stop offset="0.01562" stop-color="rgb(62,56,160)"/><stop offset="0.03125" stop-color="rgb(62,56,160)"/><stop offset="0.03125" stop-color="rgb(62,62,160)"/><stop offset="0.04688" stop-color="rgb(62,62,160)"/><stop offset="0.04688" stop-color="rgb(61,65,162)"/><stop offset="0.06250" stop-color="rgb(61,65,162)"/><stop offset="0.06250" stop-color="rgb(60,68,163)"/><stop offset="0.07812" stop-color="rgb(60,68,163)"/><stop offset="0.07812" stop-color="rgb(60,70,164)"/><stop offset="0.09375" stop-color="rgb(60,70,164)"/><stop offset="0.09375" stop-color="rgb(59,72,165)"/><stop offset="0.10938" stop-color="rgb(59,72,165)"/><stop offset="0.10938" stop-color="rgb(59,72,165)"/><stop offset="0.12500" stop-color="rgb(59,72,165)"/><stop offset="0.12500" stop-color="rgb(59,72,165)"/><stop offset="0.14062" stop-color="rgb(59,72,165)"/><stop offset="0.14062" stop-color="rgb(59,72,165)"/><stop offset="0.15625" stop-color="rgb(59,72,165)"/><stop offset="0.15625" stop-color="rgb(59,72,165)"/><stop offset="0.17188" stop-color="rgb(59,72,165)"/><stop offset="0.17188" stop-color="rgb(59,73,165)"/><stop offset="0.18750" stop-color="rgb(59,73,165)"/><stop offset="0.18750" stop-color="rgb(60,78,167)"/><stop offset="0.20312" stop-color="rgb(60,78,167)"/><stop offset="0.20312" stop-color="rgb(60,84,169)"/><stop offset="0.21875" stop-color="rgb(60,84,169)"/><stop offset="0.21875" stop-color="rgb(62,95,174)"/><stop offset="0.23438" stop-color="rgb(62,95,174)"/><stop offset="0.23438" stop-color="rgb(67,110,180)"/><stop offset="0.25000" stop-color="rgb(67,110,180)"/><stop offset="0.25000" stop-color="rgb(73,124,186)"/><stop offset="0.26562" stop-color="rgb(73,124,186)"/><stop offset="0.26562" stop-color="rgb(80,137,193)"/><stop offset="0.28125" stop-color="rgb(80,137,193)"/><stop offset="0.28125" stop-color="rgb(89,153,200)"/><stop offset="0.29688" stop-color="rgb(89,153,200)"/><stop offset="0.29688" stop-color="rgb(96,167,207)"/><stop offset="0.31250" stop-color="rgb(96,167,207)"/><stop offset="0.31250" stop-color="rgb(105,185,215)"/><stop offset="0.32812" stop-color="rgb(105,185,215)"/><stop offset="0.32812" stop-color="rgb(118,200,218)"/><stop offset="0.34375" stop-color="rgb(118,200,218)"/><stop offset="0.34375" stop-color="rgb(131,212,217)"/><stop offset="0.35938" stop-color="rgb(131,212,217)"/><stop offset="0.35938" stop-color="rgb(143,219,211)"/><stop offset="0.37500" stop-color="rgb(143,219,211)"/><stop offset="0.37500" stop-color="rgb(144,221,204)"/><stop offset="0.39062" stop-color="rgb(144,221,204)"/><stop offset="0.39062" stop-color="rgb(142,220,196)"/><stop offset="0.40625" stop-color="rgb(142,220,196)"/><stop offset="0.40625" stop-color="rgb(141,220,189)"/><stop offset="0.42188" stop-color="rgb(141,220,189)"/><stop offset="0.42188" stop-color="rgb(140,220,181)"/><stop offset="0.43750" stop-color="rgb(140,220,181)"/><stop offset="0.43750" stop-color="rgb(141,220,172)"/><stop offset="0.45312" stop-color="rgb(141,220,172)"/><stop offset="0.45312" stop-color="rgb(142,220,163)"/><stop offset="0.46875" stop-color="rgb(142,220,163)"/><stop offset="0.46875" stop-color="rgb(144,221,155)"/><stop offset="0.48438" stop-color="rgb(144,221,155)"/><stop offset="0.48438" stop-color="rgb(149,221,144)"/><stop offset="0.50000" stop-color="rgb(149,221,144)"/><stop offset="0.50000" stop-color="rgb(160,220,128)"/><stop offset="0.51562" stop-color="rgb(160,220,128)"/><stop offset="0.51562" stop-color="rgb(171,220,116)"/><stop offset="0.53125" stop-color="rgb(171,220,116)"/><stop offset="0.53125" stop-color="rgb(182,220,107)"/><stop offset="0.54688" stop-color="rgb(182,220,107)"/><stop offset="0.54688" stop-color="rgb(194,221,98)"/><stop offset="0.56250" stop-color="rgb(194,221,98)"/><stop offset="0.56250" stop-color="rgb(205,222,88)"/><stop offset="0.57812" stop-color="rgb(205,222,88)"/><stop offset="0.57812" stop-color="rgb(217,223,79)"/><stop offset="0.59375" stop-color="rgb(217,223,79)"/><stop offset="0.59375" stop-color="rgb(227,224,71)"/><stop offset="0.60938" stop-color="rgb(227,224,71)"/><stop offset="0.60938" stop-color="rgb(234,225,63)"/><stop offset="0.62500" stop-color="rgb(234,225,63)"/><stop offset="0.62500" stop-color="rgb(240,225,53)"/><stop offset="0.64062" stop-color="rgb(240,225,53)"/><stop offset="0.64062" stop-color="rgb(245,219,39)"/><stop offset="0.65625" stop-color="rgb(245,219,39)"/><stop offset="0.65625" stop-color="rgb(248,202,26)"/><stop offset="0.67188" stop-color="rgb(248,202,26)"/><stop offset="0.67188" stop-color="rgb(246,182,32)"/><stop offset="0.68750" stop-color="rgb(246,182,32)"/><stop offset="0.68750" stop-color="rgb(245,168,33)"/><stop offset="0.70312" stop-color="rgb(245,168,33)"/><stop offset="0.70312" stop-color="rgb(243,155,35)"/><stop offset="0.71875" stop-color="rgb(243,155,35)"/><stop offset="0.71875" stop-color="rgb(240,141,36)"/><stop offset="0.73438" stop-color="rgb(240,141,36)"/><stop offset="0.73438" stop-color="rgb(239,127,36)"/><stop offset="0.75000" stop-color="rgb(239,127,36)"/><stop offset="0.75000" stop-color="rgb(236,113,36)"/><stop offset="0.76562" stop-color="rgb(236,113,36)"/><stop offset="0.76562" stop-color="rgb(234,99,36)"/><stop offset="0.78125" stop-color="rgb(234,99,36)"/><stop offset="0.78125" stop-color="rgb(231,87,36)"/><stop offset="0.79688" stop-color="rgb(231,87,36)"/><stop offset="0.79688" stop-color="rgb(229,76,36)"/><stop offset="0.81250" stop-color="rgb(229,76,36)"/><stop offset="0.81250" stop-color="rgb(227,66,38)"/><stop offset="0.82812" stop-color="rgb(227,66,38)"/><stop offset="0.82812" stop-color="rgb(225,58,39)"/><stop offset="0.84375" stop-color="rgb(225,58,39)"/><stop offset="0.84375" stop-color="rgb(223,53,40)"/><stop offset="0.85938" stop-color="rgb(223,53,40)"/><stop offset="0.85938" stop-color="rgb(221,49,39)"/><stop offset="0.87500" stop-color="rgb(221,49,39)"/><stop offset="0.87500" stop-color="rgb(219,46,37)"/><stop offset="0.89062" stop-color="rgb(219,46,37)"/><stop offset="0.89062" stop-color="rgb(216,43,35)"/><stop offset="0.90625" stop-color="rgb(216,43,35)"/><stop offset="0.90625" stop-color="rgb(208,40,30)"/><stop offset="0.92188" stop-color="rgb(208,40,30)"/><stop offset="0.92188" stop-color="rgb(195,37,29)"/><stop offset="0.93750" stop-color="rgb(195,37,29)"/><stop offset="0.93750" stop-color="rgb(179,35,27)"/><stop offset="0.95312" stop-color="rgb(179,35,27)"/><stop offset="0.95312" stop-color="rgb(163,32,24)"/><stop offset="0.96875" stop-color="rgb(163,32,24)"/><stop offset="0.96875" stop-color="rgb(146,29,22)"/><stop offset="0.98438" stop-color="rgb(146,29,22)"/><stop offset="0.98438" stop-color="rgb(130,27,21)"/><stop offset="1.00000" stop-color="rgb(130,27,21)"/></linearGradient>
<rect x="408.30" y="813.60" width="264.10" height="25.80" fill="url(#cb3)"/>
<rect x="408.30" y="813.60" width="264.10" height="25.80" fill="none" stroke="#1a1a1a" stroke-width="1"/>
<line x1="444.50" y1="813.60" x2="444.50" y2="816.10" stroke="#1a1a1a" stroke-width="1"/>
<line x1="444.50" y1="839.40" x2="444.50" y2="836.90" stroke="#1a1a1a" stroke-width="1"/>
<text x="445.30" y="855.40" font-size="13.2" text-anchor="end" >−1</text>
<line x1="509.10" y1="813.60" x2="509.10" y2="816.10" stroke="#1a1a1a" stroke-width="1"/>
<line x1="509.10" y1="839.40" x2="509.10" y2="836.90" stroke="#1a1a1a" stroke-width="1"/>
<text x="509.10" y="855.40" font-size="13.2" text-anchor="middle" >0</text>
<line x1="573.90" y1="813.60" x2="573.90" y2="816.10" stroke="#1a1a1a" stroke-width="1"/>
<line x1="573.90" y1="839.40" x2="573.90" y2="836.90" stroke="#1a1a1a" stroke-width="1"/>
<text x="573.90" y="855.40" font-size="13.2" text-anchor="middle" >1</text>
<line x1="638.40" y1="813.60" x2="638.40" y2="816.10" stroke="#1a1a1a" stroke-width="1"/>
<line x1="638.40" y1="839.40" x2="638.40" y2="836.90" stroke="#1a1a1a" stroke-width="1"/>
<text x="638.40" y="855.40" font-size="13.2" text-anchor="middle" >2</text>
</svg>
</body></html>
